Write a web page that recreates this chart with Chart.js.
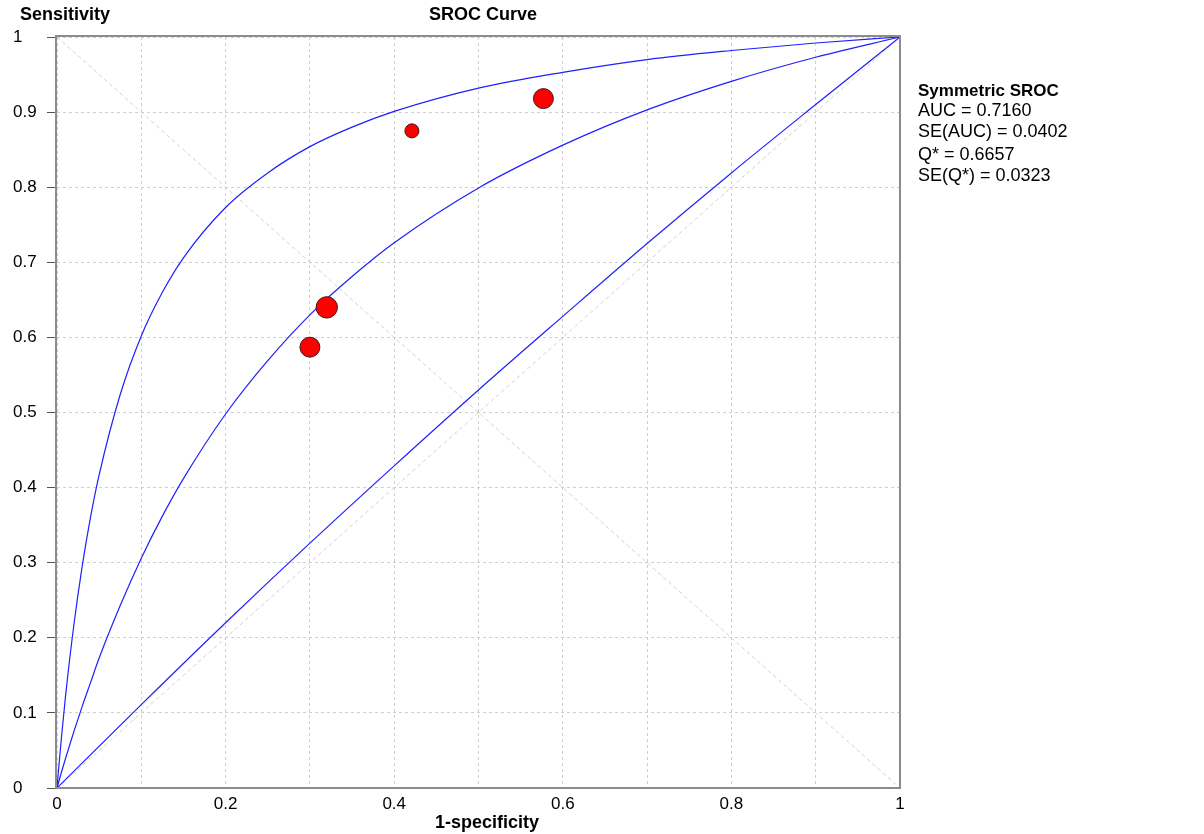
<!DOCTYPE html>
<html>
<head>
<meta charset="utf-8">
<script src="https://cdn.jsdelivr.net/npm/chart.js@4.4.1/dist/chart.umd.min.js"></script>
<style>
  html, body { margin: 0; padding: 0; background: #fff; }
  #wrap { width: 1204px; height: 834px; }
</style>
</head>
<body>
<div id="wrap"><canvas id="chart" width="1204" height="834"></canvas></div>
<script>
// values
const curveFpr   = [0, 0.005, 0.01, 0.02, 0.03, 0.04, 0.05, 0.075, 0.1, 0.125, 0.15, 0.2, 0.25, 0.3, 0.35, 0.4, 0.5, 0.6, 0.7, 0.8, 0.9, 1];
const upperSens  = [0, 0.064, 0.121, 0.217, 0.296, 0.362, 0.417, 0.524, 0.602, 0.660, 0.706, 0.773, 0.819, 0.854, 0.880, 0.901, 0.932, 0.953, 0.970, 0.982, 0.992, 1];
const srocSens   = [0, 0.020, 0.039, 0.075, 0.109, 0.141, 0.173, 0.243, 0.306, 0.362, 0.412, 0.498, 0.569, 0.630, 0.681, 0.726, 0.799, 0.856, 0.903, 0.941, 0.973, 1];
const lowerFpr   = [0, 0.1, 0.2, 0.3, 0.4, 0.5, 0.6, 0.7, 0.8, 0.9, 1];
const lowerSens  = [0, 0.111, 0.220, 0.326, 0.429, 0.530, 0.628, 0.725, 0.819, 0.910, 1];

const studyFpr    = [0.300, 0.320, 0.421, 0.577];
const studySens   = [0.587, 0.640, 0.875, 0.918];
const studyWeight = [0.87, 1.00, 0.43, 0.87];

const statLines = ['AUC = 0.7160', 'SE(AUC) = 0.0402', 'Q* = 0.6657', 'SE(Q*) = 0.0323'];

const FONT = '"Liberation Sans", Arial, sans-serif';

function pts(xs, ys) {
    return xs.map((x, i) => ({x: x, y: ys[i]}));
}

function fmt(v) {
    return String(Number(v.toFixed(1)));
}

const textPlugin = {
    id: 'sroctext',
    afterDraw(chart) {
        const ctx = chart.ctx, a = chart.chartArea;
        ctx.save();
        // frame
        ctx.strokeStyle = '#8c8c8c';
        ctx.lineWidth = 2;
        ctx.strokeRect(a.left - 1, a.top - 1, a.right - a.left + 1, a.bottom - a.top + 1);

        ctx.fillStyle = '#000';
        ctx.textBaseline = 'middle';
        ctx.font = 'bold 18px ' + FONT;
        ctx.textAlign = 'left';
        ctx.fillText('Sensitivity', 20, 15);
        ctx.textAlign = 'center';
        ctx.fillText('SROC Curve', 483, 15);
        ctx.fillText('1-specificity', 487, 823);

        ctx.textAlign = 'left';
        ctx.font = 'bold 17px ' + FONT;
        ctx.fillText('Symmetric SROC', 918, 91);
        ctx.font = '18px ' + FONT;
        const ys = [111, 132, 155, 176];
        statLines.forEach((t, i) => ctx.fillText(t, 918, ys[i]));
        ctx.restore();
    }
};

const guide = {
    type: 'line', showLine: true, pointRadius: 0, borderColor: '#d2d2d2',
    borderWidth: 1, borderDash: [4, 3], fill: false
};
const blue = {
    type: 'line', showLine: true, pointRadius: 0, borderColor: '#1f1fff',
    borderWidth: 1.2, fill: false, cubicInterpolationMode: 'monotone'
};

new Chart(document.getElementById('chart'), {
    type: 'scatter',
    data: {
        datasets: [
            {
                label: 'Studies',
                data: pts(studyFpr, studySens),
                pointRadius: studyWeight.map(w => 10.7 * Math.sqrt(w)),
                pointHoverRadius: studyWeight.map(w => 10.7 * Math.sqrt(w)),
                backgroundColor: '#ff0000',
                borderColor: '#3a1a1a',
                borderWidth: 1
            },
            Object.assign({label: 'upper', data: pts(curveFpr, upperSens)}, blue),
            Object.assign({label: 'SROC', data: pts(curveFpr, srocSens)}, blue),
            Object.assign({label: 'lower', data: pts(lowerFpr, lowerSens)}, blue),
            Object.assign({label: 'diag', data: [{x: 0, y: 0}, {x: 1, y: 1}]}, guide),
            Object.assign({label: 'anti', data: [{x: 0, y: 1}, {x: 1, y: 0}]}, guide)
        ]
    },
    options: {
        responsive: false,
        animation: false,
        devicePixelRatio: 1,
        layout: { padding: { left: 13, right: 304, top: 37, bottom: 0 } },
        plugins: {
            legend: { display: false },
            tooltip: { enabled: false },
            title: { display: false }
        },
        scales: {
            x: {
                type: 'linear', min: 0, max: 1,
                afterFit: (s) => { s.height = 46; },
                grid: { color: '#cfcfcf', lineWidth: 1, drawTicks: false },
                border: { display: false, dash: [3, 3] },
                ticks: {
                    stepSize: 0.1, padding: 6, color: '#000', maxRotation: 0, autoSkip: false,
                    font: { family: FONT, size: 17 },
                    callback: (v) => (Math.round(v * 10) % 2 === 0 ? fmt(v) : '')
                }
            },
            y: {
                type: 'linear', min: 0, max: 1,
                afterFit: (s) => { s.width = 44; },
                grid: { color: '#cfcfcf', lineWidth: 1, tickLength: 10, tickColor: '#555', tickBorderDash: [] },
                border: { display: false, dash: [3, 3] },
                ticks: {
                    stepSize: 0.1, crossAlign: 'far', color: '#000', autoSkip: false,
                    font: { family: FONT, size: 17 },
                    callback: (v) => fmt(v)
                }
            }
        }
    },
    plugins: [textPlugin]
});
</script>
</body>
</html>
